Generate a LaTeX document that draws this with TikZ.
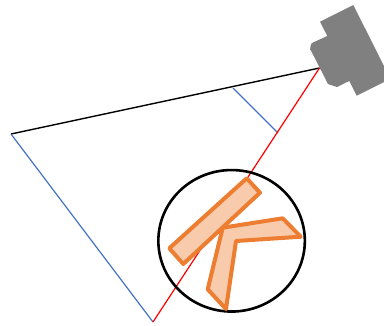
\documentclass[tikz,border=0pt]{standalone}
\usepackage{xcolor}
\usepackage{tikz}
\usetikzlibrary{shapes.geometric}
\definecolor{cRay}{HTML}{4472C4}
\definecolor{cAxis}{HTML}{FF0000}
\definecolor{cBody}{HTML}{808080}
\definecolor{cEdge}{HTML}{ED7D31}
\definecolor{cFill}{HTML}{F8CBAD}
\tikzset{
  ray/.style={draw=cRay, line width=1.2pt},
  axis/.style={draw=cAxis, line width=1.2pt},
  top/.style={draw=black, line width=1.4pt},
  lens/.style={draw=black, line width=2.6pt},
  part/.style={draw=cEdge, fill=cFill, line width=4pt, line join=round},
  body/.style={fill=cBody, draw=none},
}
\begin{document}
\begin{tikzpicture}[x=1pt, y=-1pt]
  \useasboundingbox (0,0) rectangle (384,325);
  \coordinate (apex) at (319.5,68);
  \coordinate (far) at (11,134);
  \coordinate (foot) at (153,322);
  \coordinate (markA) at (233,88);
  \coordinate (markB) at (278,133);

  % camera
  \path[body] (320,21.7) -- (353.3,5) -- (384,66) -- (384,82) -- (356.7,95.7) -- (349.3,81)
    -- (337,87) to[out=153,in=-30] (328,84) -- (310.7,50) to[out=-110,in=170] (313,42.5) -- (327.3,36) -- cycle;

  \draw[top] (apex) -- (far);
  \draw[ray] (far) -- (foot);
  \draw[ray] (markA) -- (markB);
  \draw[axis] (apex) -- (foot);

  \node[lens, ellipse, minimum width=146.5pt, minimum height=141.5pt, inner sep=0pt] (view) at (231.6,240.8) {};

  % parts inside the view
  \draw[part] (246.7,178.3) -- (260,192.7) -- (183.3,264) -- (169.3,248.3) -- cycle;
  \draw[part] (222.7,227.7) -- (282.7,218.3) -- (300.7,236.7) -- (236,241) -- (226,309) -- (207.7,289.3) -- cycle;
\end{tikzpicture}
\end{document}
